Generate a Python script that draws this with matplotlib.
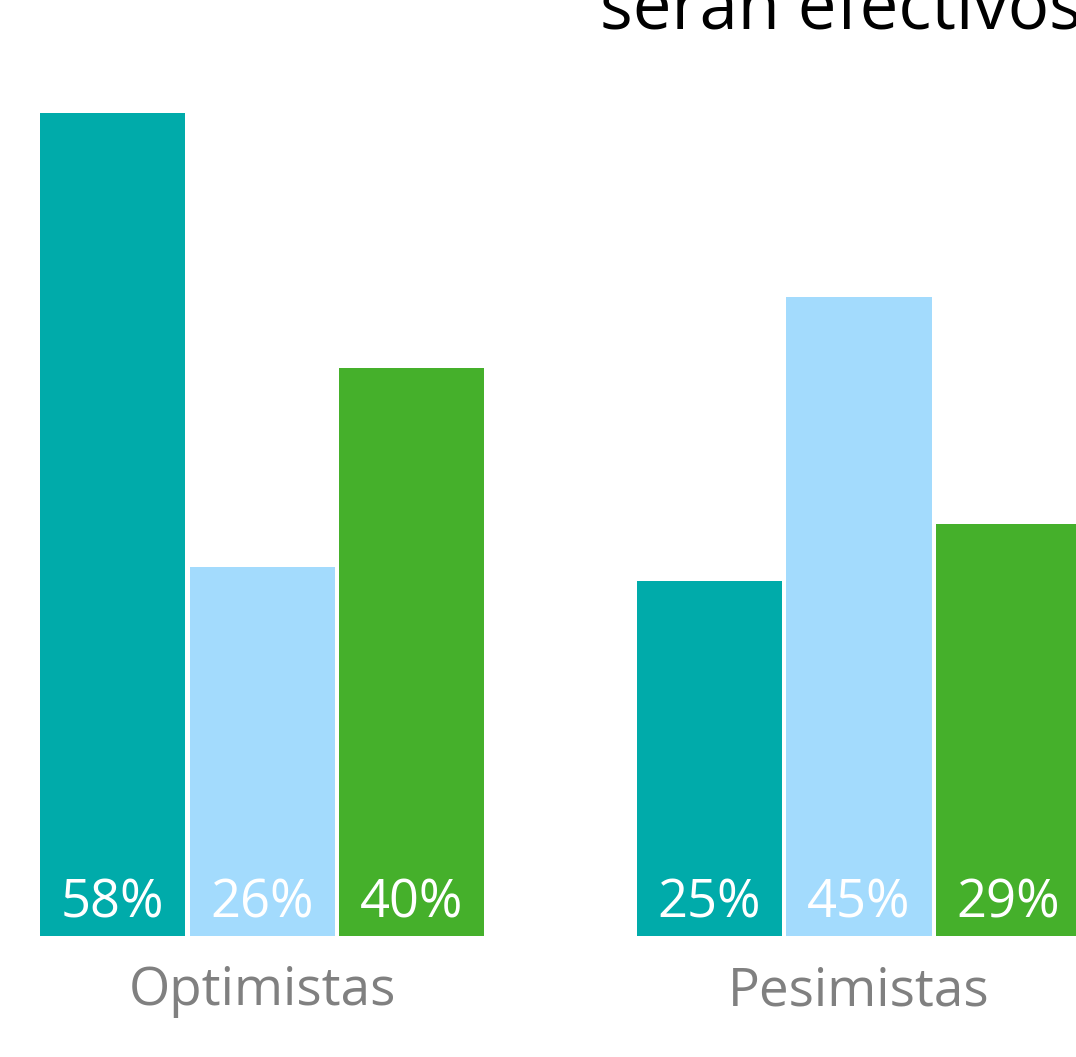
import numpy as np
import matplotlib.pyplot as plt

plt.rcParams['font.family'] = ['Open Sans', 'DejaVu Sans']

# Datos
categorias = ['Optimistas', 'Pesimistas']
serie_1 = [58, 25]
serie_2 = [26, 45]
serie_3 = [40, 29]
colores = ['#00ABAA', '#A3DBFD', '#45B02B']

fig = plt.figure(figsize=(10.76, 10.57), dpi=100)
ax = fig.add_axes([0, 1 - 936 / 1057, 1, 936 / 1057])

x = np.arange(len(categorias))
paso = 0.2504
ancho = 0.243

for i, (serie, color) in enumerate(zip([serie_1, serie_2, serie_3], colores)):
    pos = x + (i - 1) * paso
    ax.bar(pos, serie, width=ancho, color=color)
    for xp, v in zip(pos, serie):
        ax.annotate(f'{v}%', xy=(xp, 0), xytext=(0, 18), textcoords='offset pixels',
                    ha='center', va='baseline', color='white', fontsize=37.8)

for xp, nombre in zip(x, categorias):
    ax.annotate(nombre, xy=(xp, 0), xytext=(0, -69), textcoords='offset pixels',
                ha='center', va='baseline', color='#808080', fontsize=38.2,
                annotation_clip=False)

ax.set_xlim(-0.439, 1.3635)
ax.set_ylim(0, 65.96)
ax.axis('off')

# Título (recortado arriba como en el original)
fig.text(600 / 1076, 1 - 30 / 1057, 'serán efectivos', ha='left', va='baseline',
         fontsize=49.5, color='black')

fig.savefig('out.png', dpi=100)
